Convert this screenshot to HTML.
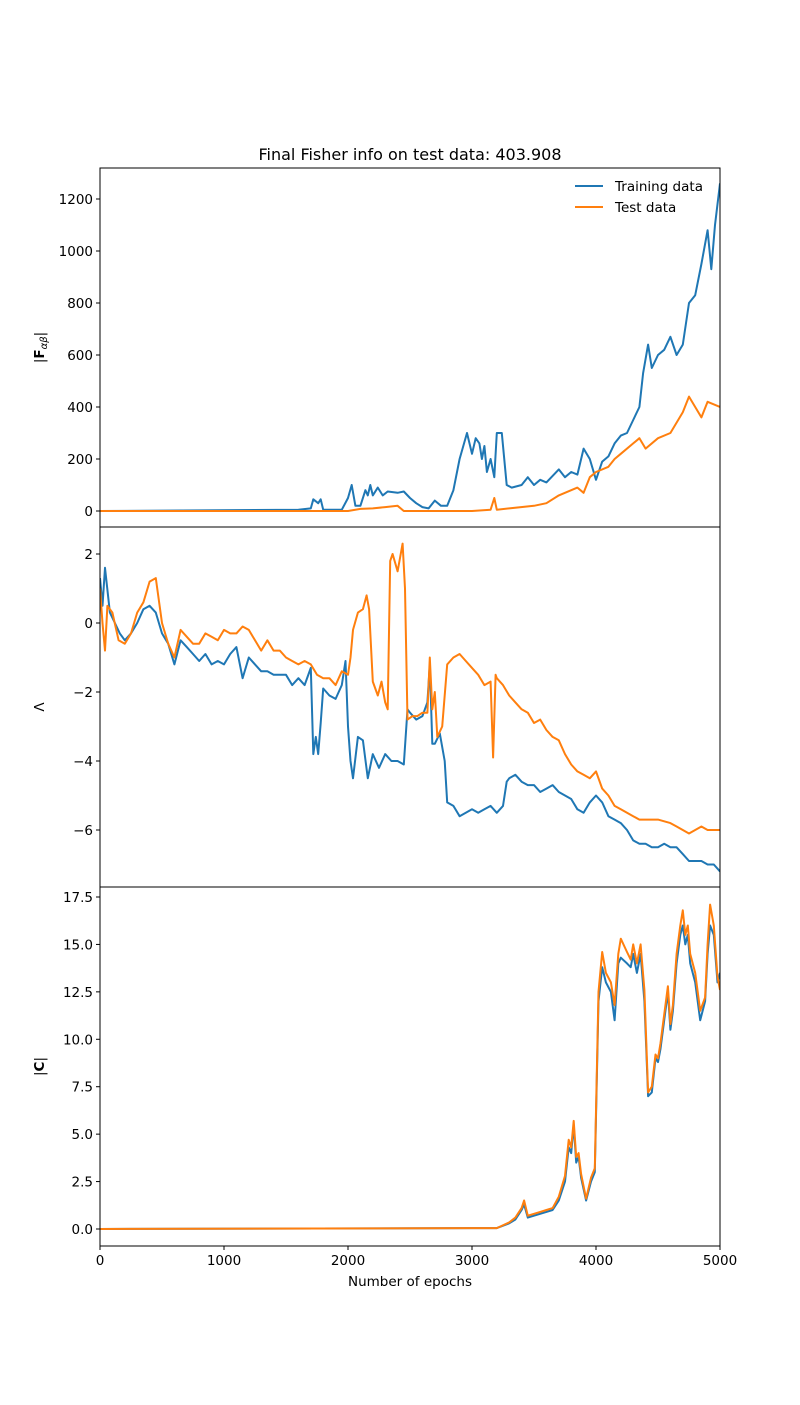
<!DOCTYPE html>
<html><head><meta charset="utf-8"><style>
body{margin:0;background:#fff;}
svg text{font-family:"DejaVu Sans","Liberation Sans",sans-serif;fill:#000;}
</style></head><body>
<svg id="chart" width="800" height="1400" xmlns="http://www.w3.org/2000/svg">
<text x="410" y="160" font-size="16" text-anchor="middle">Final Fisher info on test data: 403.908</text>
<g id="g1"></g><g id="g2"></g><g id="g3"></g>
<text x="410" y="1286" font-size="13.5" text-anchor="middle">Number of epochs</text>
<g>
<line x1="575" y1="186" x2="603" y2="186" stroke="#1f77b4" stroke-width="2"/>
<text x="615" y="191" font-size="13.5">Training data</text>
<line x1="575" y1="207" x2="603" y2="207" stroke="#ff7f0e" stroke-width="2"/>
<text x="615" y="212" font-size="13.5">Test data</text>
</g>
</svg>
<script>
const xTicks=[0,1000,2000,3000,4000,5000];
const fEp=[0,1600,1700,1720,1760,1780,1800,1950,2000,2030,2060,2100,2140,2160,2180,2200,2240,2280,2320,2400,2450,2500,2550,2600,2650,2700,2750,2800,2850,2900,2930,2960,3000,3030,3060,3080,3100,3120,3150,3180,3200,3240,3280,3320,3400,3450,3500,3550,3600,3700,3750,3800,3850,3900,3950,4000,4050,4100,4150,4200,4250,4300,4350,4380,4420,4450,4500,4550,4600,4650,4700,4750,4800,4850,4900,4930,4960,5000];
const fTrain=[0,5,10,45,30,45,5,5,50,100,20,20,80,60,100,60,90,60,75,70,75,50,30,15,10,40,20,20,80,200,250,300,220,280,260,200,250,150,200,130,300,300,100,90,100,130,100,120,110,160,130,150,140,240,200,120,190,210,260,290,300,350,400,530,640,550,600,620,670,600,640,800,830,950,1080,930,1100,1260];
const fTestEp=[0,2000,2100,2200,2300,2400,2450,3000,3150,3180,3200,3300,3500,3600,3700,3800,3850,3900,3950,4000,4100,4150,4200,4300,4350,4400,4500,4600,4700,4750,4800,4850,4900,5000];
const fTest=[0,0,8,10,15,20,0,0,5,50,5,10,20,30,60,80,90,70,130,150,170,200,220,260,280,240,280,300,380,440,400,360,420,400];
const fTicks=[0,200,400,600,800,1000,1200];
const lEp=[0,20,40,80,120,160,200,250,300,350,400,450,500,550,600,650,700,750,800,850,900,950,1000,1050,1100,1150,1200,1250,1300,1350,1400,1500,1550,1600,1650,1700,1720,1740,1760,1780,1800,1850,1900,1950,1980,2000,2020,2040,2080,2120,2160,2200,2250,2300,2350,2400,2450,2480,2500,2550,2600,2640,2660,2680,2700,2740,2780,2800,2850,2900,2950,3000,3050,3100,3150,3200,3250,3280,3300,3350,3400,3450,3500,3550,3600,3650,3700,3750,3800,3850,3900,3950,4000,4050,4100,4150,4200,4250,4300,4350,4400,4450,4500,4550,4600,4650,4700,4750,4800,4850,4900,4950,5000];
const lTrain=[1.3,0.5,1.6,0.3,0.0,-0.3,-0.5,-0.3,0.0,0.4,0.5,0.3,-0.3,-0.6,-1.2,-0.5,-0.7,-0.9,-1.1,-0.9,-1.2,-1.1,-1.2,-0.9,-0.7,-1.6,-1.0,-1.2,-1.4,-1.4,-1.5,-1.5,-1.8,-1.6,-1.8,-1.3,-3.8,-3.3,-3.8,-2.9,-1.9,-2.1,-2.2,-1.8,-1.1,-3.0,-4.0,-4.5,-3.3,-3.4,-4.5,-3.8,-4.2,-3.8,-4.0,-4.0,-4.1,-2.5,-2.6,-2.8,-2.7,-2.3,-1.2,-3.5,-3.5,-3.2,-4.0,-5.2,-5.3,-5.6,-5.5,-5.4,-5.5,-5.4,-5.3,-5.5,-5.3,-4.6,-4.5,-4.4,-4.6,-4.7,-4.7,-4.9,-4.8,-4.7,-4.9,-5.0,-5.1,-5.4,-5.5,-5.2,-5.0,-5.2,-5.6,-5.7,-5.8,-6.0,-6.3,-6.4,-6.4,-6.5,-6.5,-6.4,-6.5,-6.5,-6.7,-6.9,-6.9,-6.9,-7.0,-7.0,-7.2];
const lTestEp=[0,20,40,60,100,150,200,250,300,350,400,450,500,550,600,650,700,750,800,850,900,950,1000,1050,1100,1150,1200,1250,1300,1350,1400,1450,1500,1550,1600,1650,1700,1750,1800,1850,1900,1950,2000,2020,2040,2080,2120,2150,2170,2200,2240,2270,2300,2320,2340,2360,2400,2420,2440,2460,2480,2520,2560,2600,2640,2660,2680,2700,2720,2760,2800,2850,2900,2950,3000,3050,3100,3150,3170,3190,3200,3250,3300,3350,3400,3450,3500,3550,3600,3650,3700,3750,3800,3850,3900,3950,4000,4050,4100,4150,4200,4250,4300,4350,4400,4450,4500,4600,4650,4700,4750,4800,4850,4900,5000];
const lTest=[1.0,0.0,-0.8,0.5,0.3,-0.5,-0.6,-0.3,0.3,0.6,1.2,1.3,0.0,-0.6,-1.0,-0.2,-0.4,-0.6,-0.6,-0.3,-0.4,-0.5,-0.2,-0.3,-0.3,-0.1,-0.2,-0.5,-0.8,-0.5,-0.8,-0.8,-1.0,-1.1,-1.2,-1.1,-1.2,-1.5,-1.6,-1.6,-1.8,-1.4,-1.5,-1.0,-0.2,0.3,0.4,0.8,0.4,-1.7,-2.1,-1.7,-2.3,-2.5,1.8,2.0,1.5,1.9,2.3,1.0,-2.8,-2.7,-2.7,-2.6,-2.6,-1.0,-2.5,-2.0,-3.3,-3.0,-1.2,-1.0,-0.9,-1.1,-1.3,-1.5,-1.8,-1.7,-3.9,-1.5,-1.6,-1.8,-2.1,-2.3,-2.5,-2.6,-2.9,-2.8,-3.1,-3.3,-3.4,-3.8,-4.1,-4.3,-4.4,-4.5,-4.3,-4.8,-5.0,-5.3,-5.4,-5.5,-5.6,-5.7,-5.7,-5.7,-5.7,-5.8,-5.9,-6.0,-6.1,-6.0,-5.9,-6.0,-6.0];
const lTicks=[-6,-4,-2,0,2];
const cEp=[0,3000,3200,3300,3350,3400,3420,3450,3500,3550,3600,3650,3700,3750,3780,3800,3820,3840,3860,3880,3920,3960,3990,4020,4050,4080,4120,4150,4180,4200,4250,4280,4300,4330,4360,4390,4420,4450,4480,4500,4520,4550,4580,4600,4620,4650,4680,4700,4720,4740,4760,4800,4840,4880,4900,4920,4950,4980,5000];
const cTrain=[0,0.05,0.05,0.3,0.5,1.0,1.3,0.6,0.7,0.8,0.9,1.0,1.5,2.5,4.3,4.0,5.5,3.5,3.8,2.7,1.5,2.5,3.0,12.0,13.8,13.0,12.5,11.0,14.0,14.3,14.0,13.8,14.5,13.5,14.5,12.0,7.0,7.2,9.0,8.8,9.5,11.0,12.5,10.5,11.5,14.0,15.5,16.0,15.0,15.5,14.0,13.0,11.0,12.0,14.5,16.0,15.5,13.0,13.5];
const cTest=[0,0.05,0.05,0.35,0.6,1.1,1.5,0.7,0.8,0.9,1.0,1.1,1.7,2.8,4.7,4.3,5.7,3.8,4.0,2.9,1.6,2.7,3.2,12.5,14.6,13.5,13.0,11.8,14.5,15.3,14.6,14.2,15.0,14.0,15.0,12.6,7.2,7.5,9.2,9.0,9.8,11.3,12.8,10.8,11.8,14.5,16.0,16.8,15.5,16.0,14.5,13.5,11.5,12.2,15.0,17.1,16.0,13.3,12.6];
const cTicks=[0,2.5,5,7.5,10,12.5,15,17.5];

const NS="http://www.w3.org/2000/svg";
const X0=100,X1=720;
function xs(v){return X0+(v/5000)*(X1-X0);}
function mk(tag,attrs,parent){const e=document.createElementNS(NS,tag);for(const k in attrs)e.setAttribute(k,attrs[k]);parent.appendChild(e);return e;}
function panel(gid,top,bot,yA,yB,vA,vB,ticks,fmt,series,ylabel,ylabelHtml,showX){
  const g=document.getElementById(gid);
  const ys=v=>yA+(v-vA)*(yB-yA)/(vB-vA);
  const clip=mk('clipPath',{id:'c'+gid},g);mk('rect',{x:X0,y:top,width:X1-X0,height:bot-top},clip);
  series.forEach(s=>{
    const d=s.ep.map((e,i)=>(i?'L':'M')+xs(e).toFixed(1)+','+ys(s.v[i]).toFixed(1)).join('');
    const p=mk('path',{d:d,fill:'none',stroke:s.c,'stroke-width':2,'stroke-linejoin':'round','clip-path':'url(#c'+gid+')'},g);
    
    
  });
  const r=mk('rect',{x:X0,y:top,width:X1-X0,height:bot-top,fill:'none',stroke:'#000','stroke-width':1},g);
  
  
  ticks.forEach(t=>{
    const y=ys(t);
    mk('line',{x1:X0-4,x2:X0,y1:y,y2:y,stroke:'#000'},g);
    const tx=mk('text',{x:X0-7,y:y+5,'font-size':13.5,'text-anchor':'end'},g);tx.textContent=fmt(t);
    
    
  });
  if(showX){xTicks.forEach(t=>{const x=xs(t);mk('line',{x1:x,x2:x,y1:bot,y2:bot+4,stroke:'#000'},g);
    const tx=mk('text',{x:x,y:bot+19,'font-size':13.5,'text-anchor':'middle'},g);tx.textContent=t;
    
    });}
  const yl=mk('text',{x:0,y:0,'font-size':13.5,'text-anchor':'middle',transform:`translate(44,${(top+bot)/2}) rotate(-90)`},g);
  yl.innerHTML=ylabelHtml;
  
  
}
panel('g1',168,527,511,199,0,1200,fTicks,t=>t,[{ep:fEp,v:fTrain,c:'#1f77b4',n:'fisher-training-line'},{ep:fTestEp,v:fTest,c:'#ff7f0e',n:'fisher-test-line'}],'fisher-y-title','|<tspan font-weight="bold">F</tspan><tspan font-size="10" dy="3" font-style="italic">αβ</tspan><tspan dy="-3">|</tspan>',false);
panel('g2',527,887,623,554,0,2,lTicks,t=>t<0?'\u2212'+(-t):t,[{ep:lEp,v:lTrain,c:'#1f77b4',n:'lambda-training-line'},{ep:lTestEp,v:lTest,c:'#ff7f0e',n:'lambda-test-line'}],'lambda-y-title','Λ',false);
panel('g3',887,1246,1229,897,0,17.5,cTicks,t=>t.toFixed(1),[{ep:cEp,v:cTrain,c:'#1f77b4',n:'c-training-line'},{ep:cEp,v:cTest,c:'#ff7f0e',n:'c-test-line'}],'c-y-title','|<tspan font-weight="bold">C</tspan>|',true);
</script>
</body></html>
